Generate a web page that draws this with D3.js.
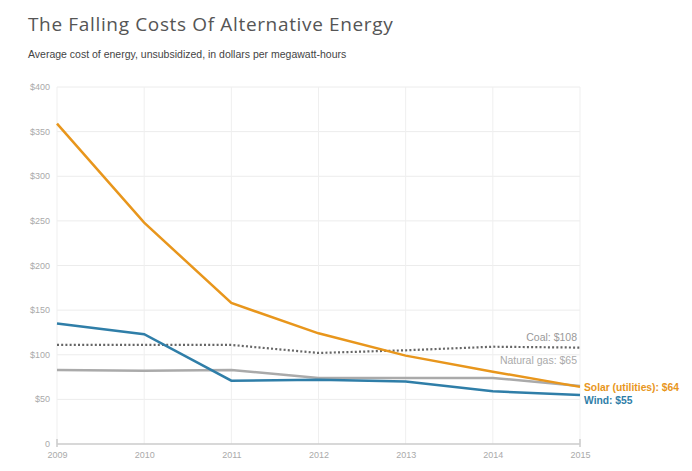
<!DOCTYPE html>
<html><head><meta charset="utf-8">
<script src="https://cdn.jsdelivr.net/npm/d3@7"></script>
<style>body{margin:0;background:#fff;font-family:"Liberation Sans",Arial,sans-serif;}</style>
</head><body>
<svg id="c" width="692" height="471"></svg>
<script>
const years = [2009, 2010, 2011, 2012, 2013, 2014, 2015];
const solar = [359, 248, 158, 124, 99, 81, 64];
const wind = [135, 123, 71, 72, 70, 59, 55];
const coal = [111, 111, 111, 102, 105, 109, 108];
const gas = [83, 82, 83, 74, 74, 74, 65];
const yTicks = [0, 50, 100, 150, 200, 250, 300, 350, 400];
const yTickLabels = ["0", "$50", "$100", "$150", "$200", "$250", "$300", "$350", "$400"];

const svg = d3.select("#c");
const x = d3.scaleLinear().domain([2009, 2015]).range([57, 580]);
const y = d3.scaleLinear().domain([0, 400]).range([444, 87]);

svg.append("text").attr("x", 28).attr("y", 31).attr("fill", "#555")
  .style("font-family", "'Open Sans'").style("font-size", "19px").style("letter-spacing", "0.65px")
  .text("The Falling Costs Of Alternative Energy");
svg.append("text").attr("x", 28).attr("y", 58).attr("fill", "#444")
  .style("font-size", "10.5px").text("Average cost of energy, unsubsidized, in dollars per megawatt-hours");

// grid
svg.append("g").selectAll("line").data(yTicks.slice(1)).join("line")
  .attr("x1", 57).attr("x2", 580).attr("y1", d => y(d)).attr("y2", d => y(d))
  .attr("stroke", "#ececec").attr("stroke-width", 1);
svg.append("g").selectAll("line").data(years).join("line")
  .attr("x1", d => x(d)).attr("x2", d => x(d)).attr("y1", y(400)).attr("y2", y(0))
  .attr("stroke", "#efefef").attr("stroke-width", 1);

// y labels
svg.append("g").selectAll("text").data(yTicks).join("text")
  .attr("x", 50).attr("y", d => y(d) + 3).attr("text-anchor", "end")
  .attr("fill", "#aaa").style("font-size", "9px").text((d, i) => yTickLabels[i]);

// x axis
const xAxis = d3.axisBottom(x).tickValues(years).tickFormat(d3.format("d")).tickSize(0).tickPadding(8);
const gx = svg.append("g").attr("transform", `translate(0,${y(0)})`).call(xAxis);
gx.select(".domain").attr("stroke", "#ccc").attr("stroke-width", 1.5)
  .attr("d", `M${x(2009)},-5V3M${x(2009)},0H${x(2015)}M${x(2015)},-5V3`);
gx.selectAll("text").attr("fill", "#aaa").style("font-size", "9px").style("font-family", "'Liberation Sans',Arial");

const line = d3.line().x((d, i) => x(years[i])).y(d => y(d));

svg.append("path").datum(gas).attr("d", line).attr("fill", "none").attr("stroke", "#aaaaaa").attr("stroke-width", 2.5);
svg.append("path").datum(coal).attr("d", line).attr("fill", "none").attr("stroke", "#666").attr("stroke-width", 2.2).attr("stroke-dasharray", "2,2.2");
svg.append("path").datum(wind).attr("d", line).attr("fill", "none").attr("stroke", "#2f7ea8").attr("stroke-width", 2.5);
svg.append("path").datum(solar).attr("d", line).attr("fill", "none").attr("stroke", "#e8961c").attr("stroke-width", 2.5);

svg.append("text").attr("x", 577).attr("y", y(108) - 7).attr("text-anchor", "end").attr("fill", "#999")
  .style("font-size", "10.5px").text("Coal: $108");
svg.append("text").attr("x", 577).attr("y", y(65) - 22).attr("text-anchor", "end").attr("fill", "#aaa")
  .style("font-size", "10.5px").text("Natural gas: $65");
svg.append("text").attr("x", 584).attr("y", y(64) + 4).attr("fill", "#e8961c")
  .style("font-size", "10.3px").style("font-weight", "bold").text("Solar (utilities): $64");
svg.append("text").attr("x", 584).attr("y", y(55) + 9).attr("fill", "#2f7ea8")
  .style("font-size", "10.3px").style("font-weight", "bold").text("Wind: $55");
</script>
</body></html>
